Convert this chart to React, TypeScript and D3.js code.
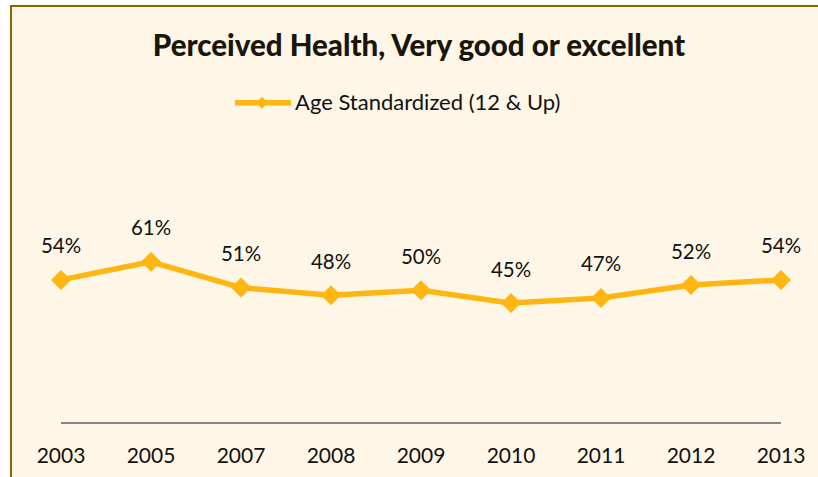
import React from "react";
import * as d3 from "d3";

const years = ["2003", "2005", "2007", "2008", "2009", "2010", "2011", "2012", "2013"];
const values = [54, 61, 51, 48, 50, 45, 47, 52, 54];
const valueLabels = ["54%", "61%", "51%", "48%", "50%", "45%", "47%", "52%", "54%"];
const seriesName = "Age Standardized (12 & Up)";
const chartTitle = "Perceived Health, Very good or excellent";

const W = 818;
const H = 477;
const FONT = "Lato, 'Open Sans', sans-serif";
const GOLD = "#FFB612";

function diamond(cx: number, cy: number, r: number) {
  return `M${cx},${cy - r}L${cx + r},${cy}L${cx},${cy + r}L${cx - r},${cy}Z`;
}

export default function App() {
  const x = d3.scalePoint<string>().domain(years).range([61, 781]);
  const y = d3.scaleLinear().domain([0, 100]).range([419.2, 161.2]);
  const axisY = 423;

  const line = d3
    .line<number>()
    .x((_, i) => x(years[i]) as number)
    .y((d) => y(d));

  return (
    <svg
      width={W}
      height={H}
      style={{ position: "absolute", left: 0, top: 0, display: "block" }}
    >
      <rect x={0} y={0} width={W} height={H} fill="#ffffff" />
      <rect x={11} y={6} width={W + 20} height={H + 20} fill="#FEF7E7" stroke="#8C6400" strokeWidth={2} />
      <text
        x={419}
        y={56}
        textAnchor="middle"
        fontFamily={FONT}
        fontWeight="900"
        fontSize={29.5}
        fill="#1A160C"
      >
        {chartTitle}
      </text>
      {/* legend */}
      <g>
        <line x1={235} x2={291} y1={102.7} y2={102.7} stroke={GOLD} strokeWidth={5.5} />
        <path d={diamond(262, 102.7, 6)} fill={GOLD} />
        <text x={295} y={109.5} fontFamily={FONT} fontSize={22} fill="#111">
          {seriesName}
        </text>
      </g>
      {/* axis */}
      <line x1={x(years[0])} x2={x(years[years.length - 1])} y1={axisY} y2={axisY} stroke="#868686" strokeWidth={2} />
      {years.map((yr) => (
        <text
          key={yr}
          x={x(yr)}
          y={463}
          textAnchor="middle"
          fontFamily={FONT}
          fontSize={21}
          fill="#111"
        >
          {yr}
        </text>
      ))}
      {/* series */}
      <path d={line(values) || ""} fill="none" stroke={GOLD} strokeWidth={5.5} strokeLinejoin="round" />
      {values.map((v, i) => (
        <path key={i} d={diamond(x(years[i]) as number, y(v), 10)} fill={GOLD} />
      ))}
      {values.map((v, i) => (
        <text
          key={"l" + i}
          x={x(years[i])}
          y={y(v) - 26.5}
          textAnchor="middle"
          fontFamily={FONT}
          fontSize={20.5}
          fill="#111"
        >
          {valueLabels[i]}
        </text>
      ))}
    </svg>
  );
}
